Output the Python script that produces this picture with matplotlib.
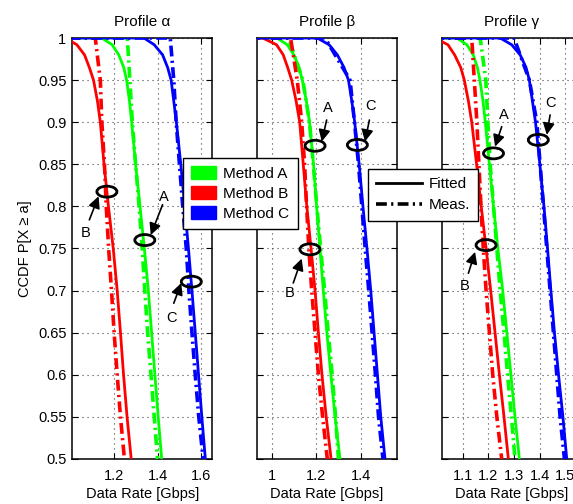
import numpy as np
import matplotlib.pyplot as plt
import matplotlib.patches as mpatches
from matplotlib.lines import Line2D
from matplotlib.ticker import FormatStrFormatter

plt.rcParams['font.family'] = ['Liberation Sans', 'DejaVu Sans']

Y_FIT = [1.0, 1.0, 0.992, 0.98, 0.965, 0.95, 0.925, 0.9, 0.85, 0.8, 0.75, 0.7, 0.65, 0.6, 0.55, 0.5]
Y_MEAS = [1.0, 1.0, 0.95, 0.9, 0.85, 0.8, 0.75, 0.7, 0.65, 0.6, 0.55, 0.5]

# data rate [Gbps] of the fitted curves
alpha_a_fit = [0.9, 1.146, 1.193, 1.223, 1.246, 1.259, 1.272, 1.282, 1.30, 1.32, 1.34, 1.358, 1.373, 1.388, 1.403, 1.419]
alpha_b_fit = [0.9, 0.98, 1.032, 1.067, 1.089, 1.108, 1.126, 1.139, 1.156, 1.176, 1.198, 1.216, 1.231, 1.245, 1.261, 1.28]
alpha_c_fit = [0.9, 1.338, 1.385, 1.423, 1.446, 1.462, 1.474, 1.486, 1.506, 1.524, 1.541, 1.557, 1.572, 1.587, 1.602, 1.618]
beta_a_fit = [0.9, 1.025, 1.07, 1.1, 1.123, 1.138, 1.156, 1.17, 1.188, 1.202, 1.217, 1.232, 1.248, 1.266, 1.285, 1.307]
beta_b_fit = [0.9, 0.96, 1.022, 1.052, 1.072, 1.09, 1.11, 1.126, 1.142, 1.158, 1.177, 1.195, 1.21, 1.226, 1.245, 1.267]
beta_c_fit = [0.9, 1.205, 1.258, 1.295, 1.325, 1.345, 1.36, 1.373, 1.393, 1.41, 1.428, 1.445, 1.46, 1.475, 1.49, 1.509]
gamma_a_fit = [0.9, 1.077, 1.116, 1.141, 1.157, 1.167, 1.179, 1.188, 1.204, 1.22, 1.237, 1.256, 1.272, 1.288, 1.304, 1.321]
gamma_b_fit = [0.9, 0.99, 1.042, 1.068, 1.092, 1.106, 1.122, 1.135, 1.154, 1.172, 1.191, 1.209, 1.226, 1.243, 1.261, 1.278]
gamma_c_fit = [0.9, 1.246, 1.291, 1.324, 1.347, 1.36, 1.372, 1.384, 1.401, 1.417, 1.431, 1.444, 1.458, 1.474, 1.491, 1.506]

# data rate [Gbps] of the measured curves
alpha_a_meas = [0.9, 1.262, 1.274, 1.285, 1.30, 1.316, 1.33, 1.342, 1.355, 1.37, 1.385, 1.40]
alpha_b_meas = [0.9, 1.116, 1.139, 1.146, 1.158, 1.166, 1.177, 1.19, 1.202, 1.216, 1.231, 1.249]
alpha_c_meas = [0.9, 1.458, 1.474, 1.485, 1.50, 1.515, 1.531, 1.543, 1.557, 1.572, 1.588, 1.608]
beta_a_meas = [0.9, 1.075, 1.14, 1.17, 1.187, 1.203, 1.22, 1.238, 1.254, 1.272, 1.287, 1.30]
beta_b_meas = [0.9, 1.085, 1.115, 1.135, 1.148, 1.157, 1.167, 1.18, 1.195, 1.21, 1.229, 1.25]
beta_c_meas = [0.9, 1.24, 1.352, 1.372, 1.39, 1.405, 1.42, 1.436, 1.451, 1.466, 1.48, 1.50]
gamma_a_meas = [0.9, 1.168, 1.19, 1.198, 1.207, 1.22, 1.233, 1.246, 1.261, 1.275, 1.29, 1.304]
gamma_b_meas = [0.9, 1.135, 1.145, 1.155, 1.163, 1.171, 1.18, 1.191, 1.204, 1.217, 1.233, 1.252]
gamma_c_meas = [0.9, 1.30, 1.36, 1.389, 1.402, 1.415, 1.428, 1.441, 1.454, 1.467, 1.48, 1.497]

titles = ['Profile \u03b1', 'Profile \u03b2', 'Profile \u03b3']
methods = ['Method A', 'Method B', 'Method C']
colors = ['#00ff00', '#ff0000', '#0000ff']
xlims = [(1.01, 1.65), (0.933, 1.563), (1.018, 1.566)]
xticks = [[1.2, 1.4, 1.6], [1.0, 1.2, 1.4], [1.1, 1.2, 1.3, 1.4, 1.5]]

fits = [[alpha_a_fit, alpha_b_fit, alpha_c_fit],
        [beta_a_fit, beta_b_fit, beta_c_fit],
        [gamma_a_fit, gamma_b_fit, gamma_c_fit]]
meas = [[alpha_a_meas, alpha_b_meas, alpha_c_meas],
        [beta_a_meas, beta_b_meas, beta_c_meas],
        [gamma_a_meas, gamma_b_meas, gamma_c_meas]]

# callouts: label, ellipse centre, text position, arrow tail, arrow head
callouts = [
    [('B', (1.169, 0.8175), (1.074, 0.768), (1.089, 0.784), (1.131, 0.812)),
     ('A', (1.342, 0.760), (1.431, 0.8115), (1.423, 0.802), (1.369, 0.766)),
     ('C', (1.554, 0.7106), (1.465, 0.667), (1.474, 0.685), (1.508, 0.709))],
    [('A', (1.195, 0.872), (1.254, 0.9165), (1.247, 0.9026), (1.225, 0.877)),
     ('C', (1.385, 0.873), (1.445, 0.919), (1.439, 0.9026), (1.419, 0.877)),
     ('B', (1.172, 0.749), (1.082, 0.697), (1.097, 0.709), (1.135, 0.738))],
    [('A', (1.22, 0.863), (1.259, 0.9086), (1.252, 0.8947), (1.226, 0.871)),
     ('C', (1.395, 0.879), (1.444, 0.9224), (1.441, 0.9086), (1.428, 0.885)),
     ('B', (1.191, 0.754), (1.109, 0.705), (1.122, 0.7206), (1.148, 0.746))],
]

meas_style = (0, (3, 1.2, 0.6, 1.2))

fig = plt.figure(figsize=(5.73, 5.04), dpi=100)
lefts = [0.1257, 0.448, 0.771]
axes = []
for i in range(3):
    ax = fig.add_axes([lefts[i], 0.0893, 0.2449, 0.8353])
    axes.append(ax)
    for j in range(3):
        ax.plot(fits[i][j], Y_FIT, color=colors[j], lw=2, solid_capstyle='butt', zorder=3)
        ax.plot(meas[i][j], Y_MEAS, color=colors[j], lw=2.6, linestyle=meas_style, zorder=3)
    ax.set_xlim(*xlims[i])
    ax.set_ylim(0.5, 1.0)
    ax.set_xticks(xticks[i])
    ax.set_yticks(np.arange(0.5, 1.001, 0.05))
    ax.xaxis.set_major_formatter(FormatStrFormatter('%g'))
    ax.yaxis.set_major_formatter(FormatStrFormatter('%g'))
    ax.tick_params(direction='in', top=True, right=True, length=4, width=0.8,
                   labelsize=10.5, color='black')
    ax.tick_params(axis='x', pad=7)
    ax.tick_params(axis='y', pad=4)
    if i > 0:
        ax.set_yticklabels([])
    ax.grid(True, linestyle=(0, (1, 3.5)), color='#444444', linewidth=0.8)
    for sp in ax.spines.values():
        sp.set_linewidth(1.1)
        sp.set_color('black')
    ax.set_title(titles[i], fontsize=11, pad=9)
    ax.set_xlabel('Data Rate [Gbps]', fontsize=10.5, labelpad=3)

    # ellipse size in pixels converted to data units
    xr = xlims[i][1] - xlims[i][0]
    ew = 20.0 / 140.0 * xr
    eh = 11.0 / 421.0 * 0.5
    for lab, cen, tpos, tail, head in callouts[i]:
        ax.add_patch(mpatches.Ellipse(cen, ew, eh, fill=False, edgecolor='black', lw=2, zorder=5))
        ax.annotate('', xy=head, xytext=tail,
                    arrowprops=dict(arrowstyle='-|>,head_length=0.7,head_width=0.35',
                                    color='black', lw=1.2, shrinkA=0, shrinkB=0), zorder=5)
        ax.text(tpos[0], tpos[1], lab, fontsize=10.5, ha='center', va='center', zorder=5)

axes[0].set_ylabel('CCDF P[X \u2265 a]', fontsize=10.5, labelpad=4)

method_handles = [mpatches.Patch(facecolor=c, edgecolor=c) for c in colors]
fig.legend(method_handles, methods, loc='upper left', bbox_to_anchor=(0.319, 0.6865),
           bbox_transform=fig.transFigure, borderaxespad=0, fontsize=11,
           fancybox=False, edgecolor='black', framealpha=1, handlelength=1.6,
           handleheight=0.9, labelspacing=0.35, handletextpad=0.5, borderpad=0.55)

style_handles = [Line2D([], [], color='black', lw=2),
                 Line2D([], [], color='black', lw=2.6, linestyle=meas_style)]
fig.legend(style_handles, ['Fitted', 'Meas.'], loc='upper left', bbox_to_anchor=(0.6422, 0.6647),
           bbox_transform=fig.transFigure, borderaxespad=0, fontsize=11,
           fancybox=False, edgecolor='black', framealpha=1, handlelength=3.0,
           labelspacing=0.45, handletextpad=0.4, borderpad=0.55)

fig.savefig('out.png', dpi=100)
